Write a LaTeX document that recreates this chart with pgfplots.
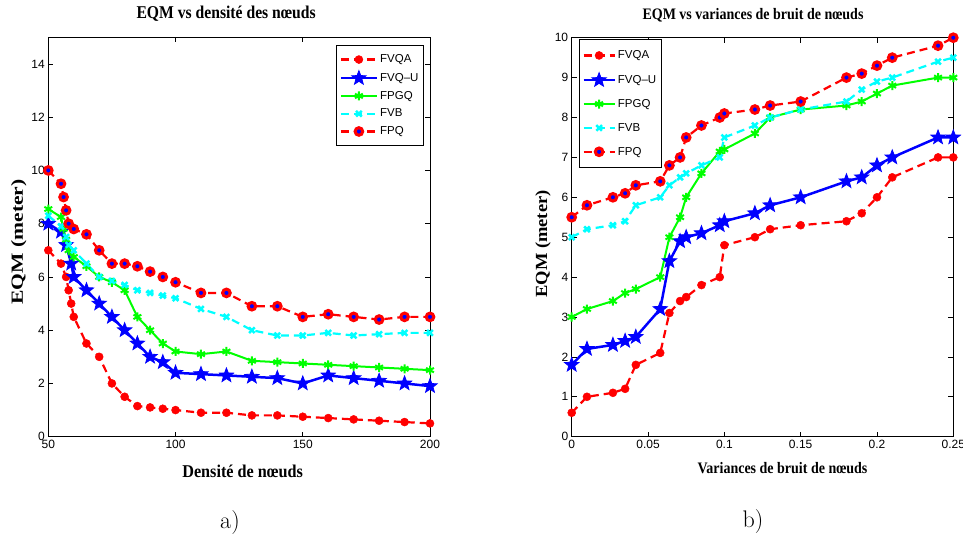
\documentclass[border=0pt]{standalone}
\usepackage{fontspec}
\setmainfont{Liberation Serif}
\setsansfont{Liberation Sans}
\newfontfamily\capfont{Latin Modern Roman}
\usepackage{pgfplots}
\pgfplotsset{compat=1.18}
\usepackage{pgfplotstable}
\usetikzlibrary{plotmarks}

\definecolor{mred}{rgb}{1,0,0}
\definecolor{mblue}{rgb}{0,0,1}
\definecolor{mgreen}{rgb}{0,1,0}
\definecolor{mcyan}{rgb}{0,1,1}

% filled five-pointed star (pentagram) marker
\pgfdeclareplotmark{pentastar}{%
  \pgfpathmoveto{\pgfqpointpolar{90}{\pgfplotmarksize}}%
  \pgfpathlineto{\pgfqpointpolar{126}{0.42\pgfplotmarksize}}%
  \pgfpathlineto{\pgfqpointpolar{162}{\pgfplotmarksize}}%
  \pgfpathlineto{\pgfqpointpolar{198}{0.42\pgfplotmarksize}}%
  \pgfpathlineto{\pgfqpointpolar{234}{\pgfplotmarksize}}%
  \pgfpathlineto{\pgfqpointpolar{270}{0.42\pgfplotmarksize}}%
  \pgfpathlineto{\pgfqpointpolar{306}{\pgfplotmarksize}}%
  \pgfpathlineto{\pgfqpointpolar{342}{0.42\pgfplotmarksize}}%
  \pgfpathlineto{\pgfqpointpolar{18}{\pgfplotmarksize}}%
  \pgfpathlineto{\pgfqpointpolar{54}{0.42\pgfplotmarksize}}%
  \pgfpathclose
  \pgfusepathqfillstroke
}

% label fonts
\newcommand\lblA{\bfseries\fontsize{18}{18}\selectfont}
\newcommand\lblB{\bfseries\fontsize{16}{16}\selectfont}
\newcommand\lblY{\bfseries\fontsize{17}{17}\selectfont}

% EQM against noise variance, one column per method
\pgfplotstableread{
x      fvqa  fvqu  fpgq  fvb  fpq
0      0.6   1.8   3.0   5.0  5.5
0.010  1.0   2.2   3.2   5.2  5.8
0.027  1.1   2.3   3.4   5.3  6.0
0.035  1.2   2.4   3.6   5.4  6.1
0.042  1.8   2.5   3.7   5.8  6.3
0.058  2.1   3.2   4.0   6.0  6.4
0.064  3.1   4.4   5.0   6.3  6.8
0.071  3.4   4.9   5.5   6.5  7.0
0.075  3.5   5.0   6.0   6.6  7.5
0.085  3.8   5.1   6.6   6.8  7.8
0.097  4.0   5.3   7.15  7.0  8.0
0.100  4.8   5.4   7.2   7.5  8.1
0.120  5.0   5.6   7.6   7.8  8.2
0.130  5.2   5.8   8.0   8.0  8.3
0.150  5.3   6.0   8.2   8.2  8.4
0.180  5.4   6.4   8.3   8.4  9.0
0.190  5.6   6.5   8.4   8.7  9.1
0.200  6.0   6.8   8.6   8.9  9.3
0.210  6.5   7.0   8.8   9.0  9.5
0.240  7.0   7.5   9.0   9.4  9.8
0.250  7.0   7.5   9.0   9.5  10.0
}\noisetable

\pgfplotsset{
  mlab/.style={
    scale only axis,
    axis line style={line width=1pt},
    tick style={line width=0.8pt, black},
    major tick length=5pt,
    tick align=inside,
    ticklabel style={font=\sffamily\fontsize{12}{12}\selectfont},
    /pgf/number format/assume math mode=true,
    title style={at={(0.5,1)}, anchor=base},
    xlabel style={at={(0.5,0)}, anchor=base},
    ylabel style={anchor=center},
    legend cell align=left,
    legend style={draw=black, line width=0.8pt, fill=white,
      font=\sffamily\fontsize{11.5}{11.5}\selectfont, inner xsep=3pt},
  },
  fvqa/.style={mred, line width=2.2pt, dash pattern=on 8pt off 5pt,
    mark=*, mark size=4pt, mark options={solid, fill=mred, draw=mred, line width=0.5pt}},
  fvqu/.style={mblue, line width=2.5pt,
    mark=pentastar, mark size=7.5pt, mark options={solid, fill=mblue, draw=mblue, line width=0.8pt}},
  fpgq/.style={mgreen, line width=2pt,
    mark=asterisk, mark size=4.5pt, mark options={solid, line width=2pt}},
  fvb/.style={mcyan, line width=2.2pt, dash pattern=on 8pt off 5pt,
    mark=x, mark size=4pt, mark options={solid, line width=2.5pt}},
  fpq/.style={mred, line width=2.2pt, dash pattern=on 8pt off 5pt,
    mark=*, mark size=3.8pt, mark options={solid, fill=mblue, draw=mred, line width=3pt}},
}

\begin{document}
\begin{tikzpicture}
\useasboundingbox (0pt,0pt) rectangle (963pt,533pt);

% ---- a) EQM vs node density ----
\begin{axis}[mlab,
  at={(48.3pt,96.3pt)}, anchor=south west,
  width=381.7pt, height=399.4pt,
  xmin=50, xmax=200, ymin=0, ymax=15,
  xtick={50,100,150,200}, ytick={0,2,...,14},
  title={\lblA\scalebox{0.87}[1]{EQM vs densité des nœuds}},
  title style={yshift=13pt, xshift=-13pt},
  xlabel={\lblA\scalebox{0.9}[1]{Densité de nœuds}},
  xlabel style={yshift=-40.6pt, xshift=3.5pt},
  ylabel={\lblY\scalebox{1.27}[1]{EQM (meter)}},
  ylabel style={at={(-0.0773,0.4875)}},
  legend style={at={(0.984,0.981)}, anchor=north east, row sep=4.3pt, inner ysep=7.5pt},
  legend image code/.code={\draw[mark repeat=2, mark phase=2, #1]
      plot coordinates {(0pt,0pt) (18pt,0pt) (36pt,0pt)};},
]
\addplot[fvqa] coordinates {(50,7.0) (55,6.5) (57,6.0) (58,5.5) (59,5.0) (60,4.5)
  (65,3.5) (70,3.0) (75,2.0) (80,1.5) (85,1.15) (90,1.1) (95,1.05) (100,1.0)
  (110,0.9) (120,0.9) (130,0.8) (140,0.8) (150,0.75) (160,0.7) (170,0.65)
  (180,0.6) (190,0.55) (200,0.5)};
\addlegendentry{FVQA}
\addplot[fvqu] coordinates {(50,8.0) (55,7.7) (57,7.2) (59,6.5) (60,6.0) (65,5.5)
  (70,5.0) (75,4.5) (80,4.0) (85,3.5) (90,3.0) (95,2.8) (100,2.4) (110,2.35)
  (120,2.3) (130,2.25) (140,2.2) (150,2.0) (160,2.3) (170,2.2) (180,2.1)
  (190,2.0) (200,1.9)};
\addlegendentry{FVQ--U}
\addplot[fpgq] coordinates {(50,8.55) (55,8.25) (56,7.8) (57,7.4) (58,7.0) (60,6.75)
  (65,6.4) (70,6.0) (75,5.8) (80,5.5) (85,4.5) (90,4.0) (95,3.5) (100,3.2)
  (110,3.1) (120,3.2) (130,2.85) (140,2.8) (150,2.75) (160,2.7) (170,2.65)
  (180,2.6) (190,2.55) (200,2.5)};
\addlegendentry{FPGQ}
\addplot[fvb] coordinates {(50,8.3) (55,7.9) (57,7.5) (58,7.2) (60,7.0) (65,6.5)
  (70,6.0) (75,5.85) (80,5.7) (85,5.5) (90,5.4) (95,5.3) (100,5.2) (110,4.8)
  (120,4.5) (130,4.0) (140,3.8) (150,3.8) (160,3.9) (170,3.8) (180,3.85)
  (190,3.9) (200,3.9)};
\addlegendentry{FVB}
\addplot[fpq] coordinates {(50,10.0) (55,9.5) (56,9.0) (57,8.5) (58,8.0) (60,7.8)
  (65,7.6) (70,7.0) (75,6.5) (80,6.5) (85,6.4) (90,6.2) (95,6.0) (100,5.8)
  (110,5.4) (120,5.4) (130,4.9) (140,4.9) (150,4.5) (160,4.6) (170,4.5)
  (180,4.4) (190,4.5) (200,4.5)};
\addlegendentry{FPQ}
\end{axis}

% ---- b) EQM vs noise variance ----
\begin{axis}[mlab,
  at={(571.7pt,96.3pt)}, anchor=south west,
  width=381.6pt, height=399pt,
  xmin=0, xmax=0.25, ymin=0, ymax=10,
  xtick={0,0.05,0.1,0.15,0.2,0.25},
  xticklabels={0,0.05,0.1,0.15,0.2,0.25},
  ytick={0,1,...,10},
  title={\lblB\scalebox{0.875}[1]{EQM vs variances de bruit de nœuds}},
  title style={yshift=11.7pt, xshift=-9.5pt},
  xlabel={\lblB\scalebox{0.875}[1]{Variances de bruit de nœuds}},
  xlabel style={yshift=-36.6pt, xshift=20pt},
  ylabel={\lblY\scalebox{1.09}[1]{EQM (meter)}},
  ylabel style={at={(-0.0752,0.483)}},
  legend style={at={(0.019,0.996)}, anchor=north west, row sep=10.4pt, inner ysep=9pt},
  legend image code/.code={\draw[mark repeat=2, mark phase=2, #1]
      plot coordinates {(0pt,0pt) (15.5pt,0pt) (31pt,0pt)};},
]
\addplot[fvqa] table[x=x, y=fvqa] {\noisetable};
\addlegendentry{FVQA}
\addplot[fvqu] table[x=x, y=fvqu] {\noisetable};
\addlegendentry{FVQ--U}
\addplot[fpgq] table[x=x, y=fpgq] {\noisetable};
\addlegendentry{FPGQ}
\addplot[fvb] table[x=x, y=fvb] {\noisetable};
\addlegendentry{FVB}
\addplot[fpq] table[x=x, y=fpq] {\noisetable};
\addlegendentry{FPQ}
\end{axis}

\node[anchor=base, font=\capfont\fontsize{24}{24}\selectfont] at (230pt,5pt) {a)};
\node[anchor=base, font=\capfont\fontsize{24}{24}\selectfont] at (753pt,6pt) {b)};
\end{tikzpicture}
\end{document}
